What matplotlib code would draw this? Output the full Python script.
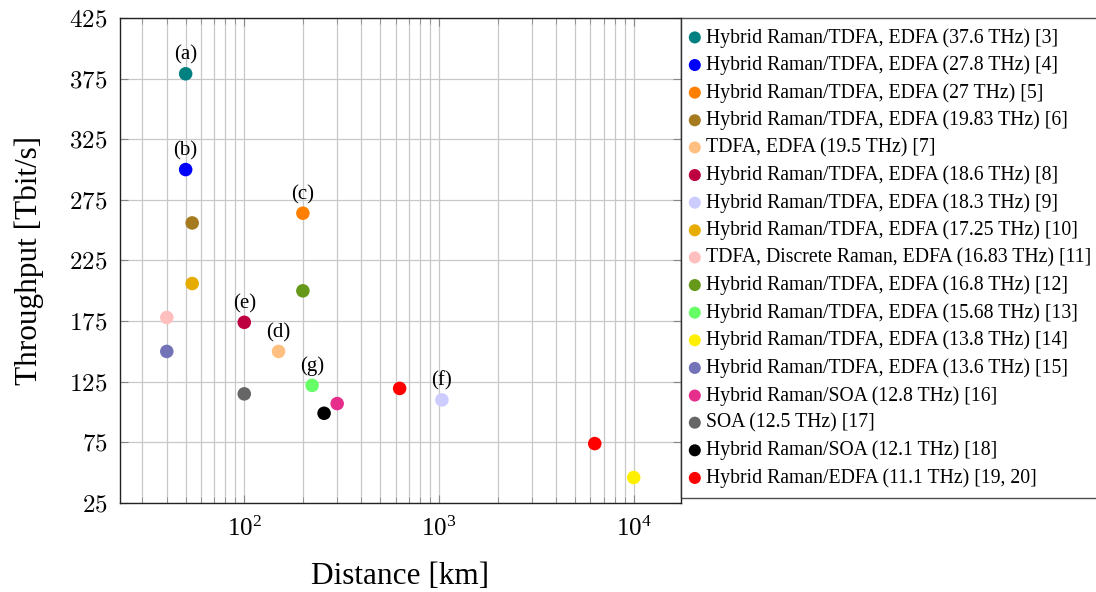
import matplotlib
matplotlib.use('Agg')
import matplotlib.pyplot as plt
from matplotlib.ticker import FixedLocator, FuncFormatter, LogLocator, NullFormatter

plt.rcParams['font.family'] = ['Liberation Serif', 'DejaVu Serif']
plt.rcParams['mathtext.fontset'] = 'cm'

# one entry per reference: legend text, colour, distance (km), throughput (Tbit/s), tag
labels = [
    "Hybrid Raman/TDFA, EDFA (37.6 THz) [3]",
    "Hybrid Raman/TDFA, EDFA (27.8 THz) [4]",
    "Hybrid Raman/TDFA, EDFA (27 THz) [5]",
    "Hybrid Raman/TDFA, EDFA (19.83 THz) [6]",
    "TDFA, EDFA (19.5 THz) [7]",
    "Hybrid Raman/TDFA, EDFA (18.6 THz) [8]",
    "Hybrid Raman/TDFA, EDFA (18.3 THz) [9]",
    "Hybrid Raman/TDFA, EDFA (17.25 THz) [10]",
    "TDFA, Discrete Raman, EDFA (16.83 THz) [11]",
    "Hybrid Raman/TDFA, EDFA (16.8 THz) [12]",
    "Hybrid Raman/TDFA, EDFA (15.68 THz) [13]",
    "Hybrid Raman/TDFA, EDFA (13.8 THz) [14]",
    "Hybrid Raman/TDFA, EDFA (13.6 THz) [15]",
    "Hybrid Raman/SOA (12.8 THz) [16]",
    "SOA (12.5 THz) [17]",
    "Hybrid Raman/SOA (12.1 THz) [18]",
    "Hybrid Raman/EDFA (11.1 THz) [19, 20]",
]
colors = [
    "#008080", "#0000ff", "#ff8000", "#a67a1f", "#ffbf80", "#bf0040",
    "#ccccff", "#e6ac00", "#ffbfbf", "#66991a", "#66ff66", "#fff000",
    "#7373b8", "#e62e8c", "#666666", "#000000", "#ff0000",
]
distances = [
    [50], [50], [200], [54], [150], [100], [1035], [54], [40], [200],
    [223], [10000], [40], [300], [100], [257], [628, 6310],
]
throughputs = [
    [379], [300], [264], [256], [150], [174], [110], [206], [178], [200],
    [122], [46], [150], [107], [115], [99], [119.5, 74],
]
tags = {0: "(a)", 1: "(b)", 2: "(c)", 4: "(d)", 5: "(e)", 6: "(f)", 10: "(g)"}

fig = plt.figure(figsize=(10.96, 5.92), dpi=100)
ax = fig.add_axes([120 / 1096, 1 - 503 / 592, 561 / 1096, 485 / 592])

handles = []
for i in range(len(labels)):
    h = ax.scatter(distances[i], throughputs[i], s=95, color=colors[i],
                   edgecolors='none', zorder=3, label=labels[i])
    handles.append(h)
    if i in tags:
        ax.annotate(tags[i], (distances[i][0], throughputs[i][0]),
                    xytext=(0, 6.5), textcoords='offset points',
                    ha='center', va='bottom', fontsize=15)

ax.set_xscale('log')
ax.set_xlim(23, 17500)
ax.set_ylim(25, 425)

ax.yaxis.set_major_locator(FixedLocator(range(25, 426, 50)))
ax.yaxis.set_major_formatter(FuncFormatter(lambda v, p: r'$%d$' % v))
ax.xaxis.set_major_locator(LogLocator(base=10))
ax.xaxis.set_minor_locator(LogLocator(base=10, subs=range(2, 10)))
ax.xaxis.set_minor_formatter(NullFormatter())

ax.grid(True, which='major', color='#c8c8c8', lw=0.9)
ax.grid(True, which='minor', axis='x', color='#c8c8c8', lw=0.9)
ax.set_axisbelow(True)

ax.tick_params(which='both', direction='in', top=True, right=True,
               labelsize=18, color='#888888')
ax.tick_params(which='major', length=6)
ax.tick_params(which='minor', length=4)
ax.tick_params(axis='y', which='major', pad=9)
ax.tick_params(axis='x', which='major', pad=10)
for sp in ax.spines.values():
    sp.set_linewidth(1.0)
    sp.set_color('#222222')

ax.set_xlabel('Distance [km]', fontsize=22.5, labelpad=15)
ax.set_ylabel('Throughput [Tbit/s]', fontsize=22.5, labelpad=18)

leg = fig.legend(handles=handles, loc='upper left',
                 bbox_to_anchor=(681 / 1096, 1 - 18 / 592),
                 fontsize=14.2, frameon=True, fancybox=False,
                 handletextpad=0.36, handlelength=0.4, borderaxespad=0,
                 labelspacing=0.40, borderpad=0.5, markerscale=0.89)
leg.get_frame().set_edgecolor('#222222')
leg.get_frame().set_linewidth(1.0)

fig.savefig('out.png', dpi=100)
